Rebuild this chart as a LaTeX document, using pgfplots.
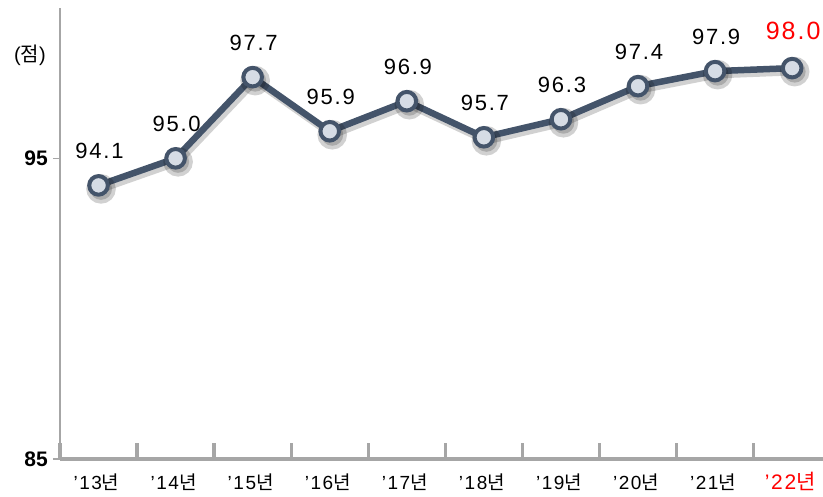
\documentclass[border=0pt]{standalone}
\usepackage{fontspec}
\usepackage{pgfplots}
\pgfplotsset{compat=1.18}
\setmainfont{Liberation Sans}
\newfontfamily\lbl{Liberation Sans}[LetterSpace=8]
\newfontfamily\kr{Noto Sans CJK KR}
\definecolor{lineC}{HTML}{44546A}
\definecolor{markC}{HTML}{D6DCE5}
\definecolor{axC}{HTML}{A6A6A6}
\pgfplotstableread{
x y
0 94.1
1 95.0
2 97.7
3 95.9
4 96.9
5 95.7
6 96.3
7 97.4
8 97.9
9 98.0
}\data
\pgfplotstableread{
x y
0 94.1
1 95.0
2 97.7
3 95.9
4 96.9
5 95.7
6 96.3
7 97.4
8 97.9
}\datanine
\pgfplotstableread{
x y
9 98.0
}\datalast
\begin{document}
\begin{tikzpicture}
\useasboundingbox (0,0) rectangle (823pt,497pt);
\begin{axis}[
  at={(60pt,38pt)}, anchor=south west,
  scale only axis, width=763pt, height=451pt,
  xmin=-0.5, xmax=9.4, ymin=85, ymax=100,
  axis x line=bottom, axis y line=left,
  axis line style={-},
  x axis line style={line width=3.3pt, color=axC},
  y axis line style={line width=1.3pt, color=axC},
  clip=false,
  tick align=inside,
  major tick length=16pt,
  xtick={-0.5,0.5,1.5,2.5,3.5,4.5,5.5,6.5,7.5,8.5},
  xticklabels={},
  x tick style={line width=3.3pt, color=axC},
  ytick=\empty,
  extra y ticks={85,95},
  extra y tick style={tick align=outside, major tick length=7pt, tick style={line width=1.3pt, color=axC}},
  extra y tick labels={85,95},
  y tick label style={font=\fontsize{21}{21}\selectfont\bfseries, inner sep=2pt, xshift=-3pt},
  extra x ticks={0,1,2,3,4,5,6,7,8,9},
  extra x tick style={major tick length=0pt, tick style={draw=none}},
  extra x tick labels={’13{\kr 년},’14{\kr 년},’15{\kr 년},’16{\kr 년},’17{\kr 년},’18{\kr 년},’19{\kr 년},’20{\kr 년},’21{\kr 년},{\color{red}\fontsize{21}{21}\selectfont ’22{\kr 년}}},
  x tick label style={font=\lbl\fontsize{19}{19}\selectfont, anchor=base, yshift=-31pt, xshift=-2pt},
]
% shadow
\addplot[color=black, opacity=0.18, line width=7.5pt, xshift=2.5pt, yshift=-3.5pt,
  mark=*, mark size=11pt, mark options={draw=none, fill=black}] table[x=x,y=y]{\data};
% line
\addplot[color=lineC, line width=6.5pt, mark=*, mark size=9.3pt,
  mark options={line width=4pt, draw=lineC, fill=markC}] table[x=x,y=y]{\data};
% labels
\addplot[draw=none, mark=none, nodes near coords, point meta=explicit symbolic,
  nodes near coords align={anchor=base},
  every node near coord/.append style={yshift=27pt, xshift=1pt, font=\lbl\fontsize{22}{22}\selectfont, text=black}]
  table[x=x,y=y,meta=y]{\datanine};
\addplot[draw=none, mark=none, nodes near coords, point meta=explicit symbolic,
  nodes near coords align={anchor=base},
  every node near coord/.append style={yshift=29pt, xshift=1pt, font=\lbl\fontsize{25}{25}\selectfont, text=red}]
  table[x=x,y=y,meta=y]{\datalast};
\end{axis}
\node[font=\lbl\fontsize{20}{20}\selectfont] at (30pt,442pt) {({\kr 점})};
\end{tikzpicture}
\end{document}
